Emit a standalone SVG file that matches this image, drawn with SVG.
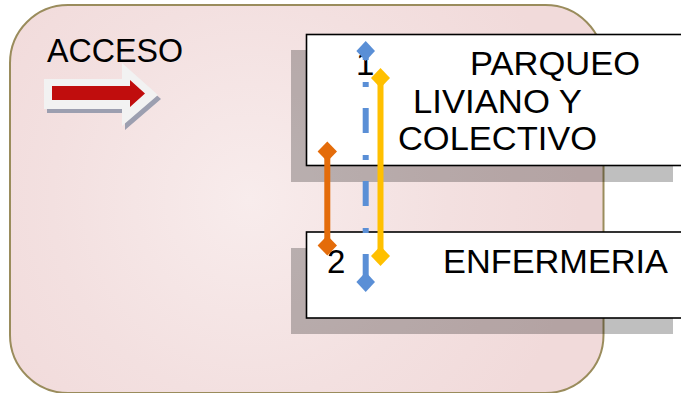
<svg xmlns="http://www.w3.org/2000/svg" width="681" height="393" viewBox="0 0 681 393">
<defs>
<radialGradient id="bg" cx="250" cy="200" r="330" gradientUnits="userSpaceOnUse">
<stop offset="0" stop-color="#f8ecec"/>
<stop offset="0.6" stop-color="#f3e0e0"/>
<stop offset="1" stop-color="#f1dada"/>
</radialGradient>
<style>
.t{font-family:"Liberation Sans",Arial,sans-serif;font-size:33px;fill:#000}
.box{fill:#fff;stroke:#000;stroke-width:1.6}
.sh{fill:#000;fill-opacity:0.25}
.ln{fill:none;stroke-width:6}
</style>
</defs>
<rect x="10" y="5" width="593.5" height="388" rx="58" ry="58" fill="url(#bg)" stroke="#9a8c5c" stroke-width="2"/>
<g id="acceso">
<text class="t" x="47" y="62" textLength="136" lengthAdjust="spacingAndGlyphs">ACCESO</text>
<polygon points="44,79 122,79 122,63 158,95 122,126 122,109 44,109" fill="#9c9fb0" transform="translate(3,4)"/>
<polygon points="44,79 122,79 122,63 158,95 122,126 122,109 44,109" fill="#f2f2f2"/>
<polygon points="52,86 130,86 130,80 145,93.5 130,107 130,100 52,100" fill="#c00d0d"/>
</g>
<g id="parqueo">
<rect class="sh" x="291" y="50" width="382" height="132"/>
<rect class="box" x="306.5" y="34.5" width="380" height="131"/>
<text class="t" x="356" y="75">1</text>
<text class="t" x="470" y="75" textLength="170" lengthAdjust="spacingAndGlyphs">PARQUEO</text>
<text class="t" x="413" y="113" textLength="169" lengthAdjust="spacingAndGlyphs">LIVIANO Y</text>
<text class="t" x="398" y="150" textLength="199" lengthAdjust="spacingAndGlyphs">COLECTIVO</text>
</g>
<g id="enfermeria">
<rect class="sh" x="291" y="248" width="382" height="86"/>
<rect class="box" x="306.5" y="232" width="380" height="86"/>
<text class="t" x="327" y="273">2</text>
<text class="t" x="443" y="273" textLength="225" lengthAdjust="spacingAndGlyphs">ENFERMERIA</text>
</g>
<g id="connectors">
<line class="ln" x1="365.7" y1="51" x2="365.7" y2="282" stroke="#5a8fd6" stroke-dasharray="25 22 5 21" stroke-dashoffset="16"/>
<polygon points="365.7,41 375,51 365.7,61 356.4,51" fill="#5a8fd6"/>
<polygon points="365.7,272 375,282 365.7,292 356.4,282" fill="#5a8fd6"/>
<line class="ln" x1="327.3" y1="151.5" x2="327.3" y2="245.5" stroke="#e46c0a"/>
<polygon points="327.3,141.5 337,151.5 327.3,161.5 317.6,151.5" fill="#e46c0a"/>
<polygon points="327.3,235.5 337,245.5 327.3,255.5 317.6,245.5" fill="#e46c0a"/>
<line class="ln" x1="380.5" y1="78" x2="380.5" y2="256" stroke="#ffc000"/>
<polygon points="380.5,68 390,78 380.5,88 371,78" fill="#ffc000"/>
<polygon points="380.5,246 390,256 380.5,266 371,256" fill="#ffc000"/>
</g>
</svg>
